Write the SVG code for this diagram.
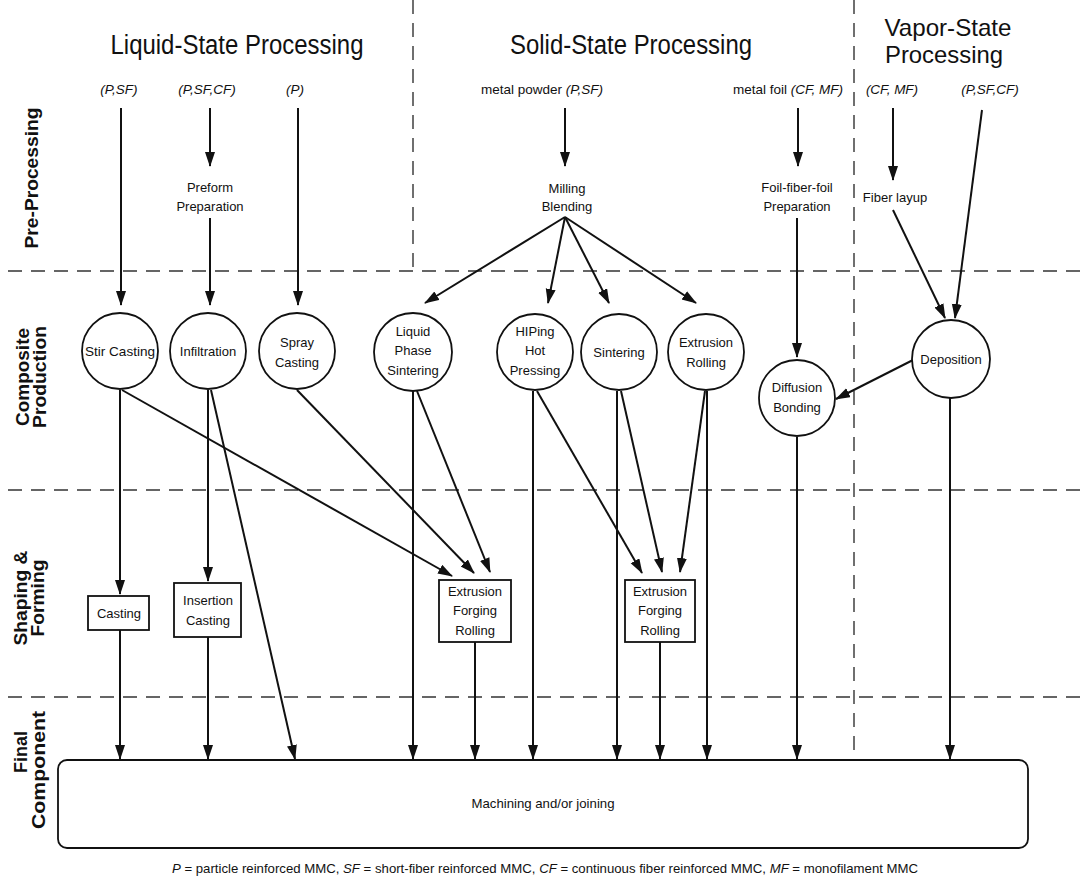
<svg xmlns="http://www.w3.org/2000/svg" width="1089" height="883" viewBox="0 0 1089 883">
<style>
text{font-family:"Liberation Sans",Arial,sans-serif;fill:#111}
.title{font-size:27px}
.vt{font-size:24px}
.side{font-size:18px;font-weight:bold}
.in{font-size:13.5px;font-style:italic}
.lbl{font-size:13px}
.n{fill:#fff;stroke:#111;stroke-width:1.8}
.ca{stroke:#111;stroke-width:2;fill:none;marker-end:url(#ah)}
.d{stroke:#333;stroke-width:1.4;stroke-dasharray:14 9;fill:none}
</style>
<defs>
<marker id="ah" markerUnits="userSpaceOnUse" markerWidth="15" markerHeight="12" refX="14" refY="5" orient="auto">
<path d="M0,0 L15,5 L0,10 Z" fill="#111"/>
</marker>
</defs>
<rect width="1089" height="883" fill="#fff"/>

<g id="grid">
<line class="d" x1="8" y1="271" x2="1089" y2="271"/>
<line class="d" x1="8" y1="490" x2="1089" y2="490"/>
<line class="d" x1="8" y1="697" x2="1089" y2="697"/>
<line class="d" x1="413" y1="0" x2="413" y2="271"/>
<line class="d" x1="854" y1="0" x2="854" y2="760"/>
</g>

<g id="titles">
<text class="title" x="237" y="54" text-anchor="middle" textLength="253" lengthAdjust="spacingAndGlyphs">Liquid-State Processing</text>
<text class="title" x="631" y="54" text-anchor="middle" textLength="242" lengthAdjust="spacingAndGlyphs">Solid-State Processing</text>
<text class="vt" x="948" y="36" text-anchor="middle" textLength="127" lengthAdjust="spacingAndGlyphs">Vapor-State</text>
<text class="vt" x="944" y="63" text-anchor="middle" textLength="118" lengthAdjust="spacingAndGlyphs">Processing</text>
</g>

<g id="side-labels">
<text class="side" transform="translate(38,178) rotate(-90)" text-anchor="middle" textLength="141" lengthAdjust="spacingAndGlyphs">Pre-Processing</text>
<text class="side" transform="translate(29,377) rotate(-90)" text-anchor="middle" textLength="98" lengthAdjust="spacingAndGlyphs">Composite</text>
<text class="side" transform="translate(46,377) rotate(-90)" text-anchor="middle" textLength="102" lengthAdjust="spacingAndGlyphs">Production</text>
<text class="side" transform="translate(27,598) rotate(-90)" text-anchor="middle" textLength="95" lengthAdjust="spacingAndGlyphs">Shaping &amp;</text>
<text class="side" transform="translate(44,598) rotate(-90)" text-anchor="middle" textLength="77" lengthAdjust="spacingAndGlyphs">Forming</text>
<text class="side" transform="translate(27,752) rotate(-90)" text-anchor="middle" textLength="42" lengthAdjust="spacingAndGlyphs">Final</text>
<text class="side" transform="translate(45,770) rotate(-90)" text-anchor="middle" textLength="118" lengthAdjust="spacingAndGlyphs">Component</text>
</g>

<g id="inputs">
<text class="in" x="119" y="94" text-anchor="middle">(P,SF)</text>
<text class="in" x="207" y="94" text-anchor="middle">(P,SF,CF)</text>
<text class="in" x="295" y="94" text-anchor="middle">(P)</text>
<text x="481" y="94" font-size="13.5">metal powder <tspan font-style="italic">(P,SF)</tspan></text>
<text x="733" y="94" font-size="13.5">metal foil <tspan font-style="italic">(CF, MF)</tspan></text>
<text class="in" x="892" y="94" text-anchor="middle">(CF, MF)</text>
<text class="in" x="990" y="94" text-anchor="middle">(P,SF,CF)</text>
</g>

<g id="preform"><text class="lbl" x="210" y="192" text-anchor="middle">Preform</text><text class="lbl" x="210" y="211" text-anchor="middle">Preparation</text></g>
<g id="milling"><text class="lbl" x="567" y="193" text-anchor="middle">Milling</text><text class="lbl" x="567" y="211" text-anchor="middle">Blending</text></g>
<g id="foil-prep"><text class="lbl" x="797" y="192" text-anchor="middle">Foil-fiber-foil</text><text class="lbl" x="797" y="211" text-anchor="middle">Preparation</text></g>
<g id="fiber-layup"><text class="lbl" x="895" y="202" text-anchor="middle">Fiber layup</text></g>

<g id="connectors">
<line class="ca" x1="121" y1="108" x2="121" y2="305"/>
<line class="ca" x1="210" y1="108" x2="210" y2="166"/>
<line class="ca" x1="210" y1="218" x2="210" y2="305"/>
<line class="ca" x1="298" y1="108" x2="298" y2="305"/>
<line class="ca" x1="565" y1="108" x2="565" y2="166"/>
<line class="ca" x1="565" y1="217" x2="425" y2="303"/>
<line class="ca" x1="565" y1="217" x2="548" y2="303"/>
<line class="ca" x1="565" y1="217" x2="609" y2="303"/>
<line class="ca" x1="565" y1="217" x2="696" y2="303"/>
<line class="ca" x1="798" y1="108" x2="798" y2="166"/>
<line class="ca" x1="797" y1="218" x2="797" y2="357"/>
<line class="ca" x1="893" y1="108" x2="893" y2="180"/>
<line class="ca" x1="893" y1="210" x2="945" y2="318"/>
<line class="ca" x1="982" y1="110" x2="955" y2="318"/>
<line class="ca" x1="913" y1="360" x2="836" y2="399"/>
<line class="ca" x1="120" y1="390" x2="120" y2="594"/>
<line class="ca" x1="122" y1="390" x2="452" y2="576"/>
<line class="ca" x1="208" y1="390" x2="208" y2="581"/>
<line class="ca" x1="211" y1="390" x2="295" y2="759"/>
<line class="ca" x1="297" y1="390" x2="474" y2="573"/>
<line class="ca" x1="413" y1="391" x2="413" y2="759"/>
<line class="ca" x1="417" y1="391" x2="490" y2="572"/>
<line class="ca" x1="533" y1="391" x2="533" y2="759"/>
<line class="ca" x1="537" y1="391" x2="642" y2="573"/>
<line class="ca" x1="617" y1="391" x2="617" y2="759"/>
<line class="ca" x1="621" y1="391" x2="662" y2="572"/>
<line class="ca" x1="707" y1="391" x2="707" y2="759"/>
<line class="ca" x1="705" y1="391" x2="680" y2="572"/>
<line class="ca" x1="797" y1="437" x2="797" y2="759"/>
<line class="ca" x1="950" y1="398" x2="950" y2="759"/>
<line class="ca" x1="120" y1="630" x2="120" y2="759"/>
<line class="ca" x1="208" y1="637" x2="208" y2="759"/>
<line class="ca" x1="475" y1="642" x2="475" y2="759"/>
<line class="ca" x1="660" y1="642" x2="660" y2="759"/>
</g>

<g id="stir-casting"><circle class="n" cx="120" cy="351" r="38"/><text class="lbl" x="120" y="356" text-anchor="middle" textLength="70" lengthAdjust="spacingAndGlyphs">Stir Casting</text></g>
<g id="infiltration"><circle class="n" cx="208" cy="351" r="38"/><text class="lbl" x="208" y="356" text-anchor="middle">Infiltration</text></g>
<g id="spray-casting"><circle class="n" cx="297" cy="351" r="38"/><text class="lbl" x="297" y="347" text-anchor="middle">Spray</text><text class="lbl" x="297" y="367" text-anchor="middle">Casting</text></g>
<g id="liquid-phase-sintering"><circle class="n" cx="413" cy="352" r="39"/><text class="lbl" x="413" y="336" text-anchor="middle">Liquid</text><text class="lbl" x="413" y="355" text-anchor="middle">Phase</text><text class="lbl" x="413" y="375" text-anchor="middle">Sintering</text></g>
<g id="hiping"><circle class="n" cx="535" cy="352" r="38"/><text class="lbl" x="535" y="336" text-anchor="middle">HIPing</text><text class="lbl" x="535" y="355" text-anchor="middle">Hot</text><text class="lbl" x="535" y="375" text-anchor="middle">Pressing</text></g>
<g id="sintering"><circle class="n" cx="619" cy="352" r="38"/><text class="lbl" x="619" y="357" text-anchor="middle">Sintering</text></g>
<g id="extrusion-rolling"><circle class="n" cx="706" cy="352" r="38"/><text class="lbl" x="706" y="347" text-anchor="middle">Extrusion</text><text class="lbl" x="706" y="367" text-anchor="middle">Rolling</text></g>
<g id="diffusion-bonding"><circle class="n" cx="797" cy="398" r="38"/><text class="lbl" x="797" y="392" text-anchor="middle">Diffusion</text><text class="lbl" x="797" y="412" text-anchor="middle">Bonding</text></g>
<g id="deposition"><circle class="n" cx="951" cy="359" r="39"/><text class="lbl" x="951" y="364" text-anchor="middle">Deposition</text></g>

<g id="casting"><rect class="n" x="88" y="596" width="61" height="34"/><text class="lbl" x="119" y="618" text-anchor="middle">Casting</text></g>
<g id="insertion-casting"><rect class="n" x="174" y="583" width="67" height="54"/><text class="lbl" x="208" y="605" text-anchor="middle">Insertion</text><text class="lbl" x="208" y="625" text-anchor="middle">Casting</text></g>
<g id="efr-1"><rect class="n" x="439" y="580" width="72" height="62"/><text class="lbl" x="475" y="596" text-anchor="middle">Extrusion</text><text class="lbl" x="475" y="615" text-anchor="middle">Forging</text><text class="lbl" x="475" y="635" text-anchor="middle">Rolling</text></g>
<g id="efr-2"><rect class="n" x="625" y="580" width="70" height="62"/><text class="lbl" x="660" y="596" text-anchor="middle">Extrusion</text><text class="lbl" x="660" y="615" text-anchor="middle">Forging</text><text class="lbl" x="660" y="635" text-anchor="middle">Rolling</text></g>

<g id="final-component"><rect class="n" x="58" y="760" width="970" height="88" rx="9"/><text class="lbl" x="543" y="808" text-anchor="middle" textLength="143" lengthAdjust="spacingAndGlyphs">Machining and/or joining</text></g>

<g id="legend"><text x="545" y="873" text-anchor="middle" font-size="13.2"><tspan font-style="italic">P</tspan> = particle reinforced MMC, <tspan font-style="italic">SF</tspan> = short-fiber reinforced MMC, <tspan font-style="italic">CF</tspan> = continuous fiber reinforced MMC, <tspan font-style="italic">MF</tspan> = monofilament MMC</text></g>
</svg>
